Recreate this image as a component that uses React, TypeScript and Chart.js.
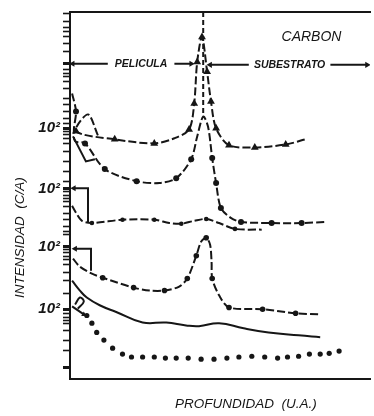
import React, { useEffect, useRef } from 'react';
import { Chart, registerables } from 'chart.js';
Chart.register(...registerables);

type P = [number, number, number];
type Q = [number, number];

// depth (a.u., 0-100) , log-intensity offset (a.u., 0-100), marker flag
const triangleCurve: P[] = [
  [9.3, 66.4, 0], [6.0, 72.1, 0], [2.0, 67.5, 1], [14.9, 65.3, 1], [28.1, 64.2, 1], [34.8, 65.6, 0],
  [39.7, 68.0, 1], [41.4, 75.1, 1], [42.4, 86.4, 1], [44.0, 93.2, 1], [45.7, 83.7, 1], [47.0, 75.6, 1],
  [48.7, 68.3, 1], [53.0, 63.7, 1], [61.6, 63.1, 1], [71.9, 63.9, 1], [78.5, 65.3, 0],
];
const circleCurveB: P[] = [
  [0.7, 77.8, 0], [2.0, 72.9, 1], [1.3, 68.0, 0], [1.7, 64.8, 0], [5.0, 64.2, 1], [11.6, 57.2, 1],
  [22.2, 53.9, 1], [29.8, 53.4, 0], [35.4, 54.7, 1], [40.4, 59.9, 1], [42.4, 66.1, 0], [44.4, 71.5, 0],
  [46.0, 68.8, 0], [47.4, 60.2, 1], [48.7, 53.4, 1], [50.3, 46.6, 1], [53.6, 43.9, 0], [57.0, 42.8, 1],
  [67.2, 42.5, 1], [77.2, 42.5, 1], [85.4, 42.8, 0],
];
const circleCurveC: P[] = [
  [0.7, 47.2, 0], [2.0, 45.3, 0], [4.0, 43.1, 0], [7.3, 42.5, 1], [17.5, 43.4, 1], [28.1, 43.4, 1],
  [33.1, 42.5, 0], [37.1, 42.3, 1], [41.4, 43.1, 0], [45.4, 43.6, 1], [49.7, 42.5, 0], [55.0, 40.9, 1],
  [63.9, 40.7, 0],
];
const circleCurveD: P[] = [
  [1.0, 32.8, 0], [3.3, 30.6, 0], [7.3, 28.7, 0], [10.9, 27.6, 1], [21.2, 24.9, 1], [26.5, 24.1, 0],
  [31.5, 24.1, 1], [36.4, 25.2, 0], [39.1, 27.4, 1], [42.1, 33.6, 1], [43.7, 37.4, 0], [45.4, 38.5, 1],
  [46.7, 36.6, 0], [47.2, 31.7, 0], [47.4, 27.4, 1], [49.7, 22.8, 0], [53.0, 19.5, 1], [64.2, 19.0, 1],
  [75.2, 17.9, 1], [83.4, 17.6, 0],
];
const solidCurveE: Q[] = [
  [0.7, 26.8], [3.3, 24.1], [5.6, 22.2], [9.9, 20.1], [15.6, 18.2], [24.2, 15.4], [32.1, 15.4],
  [38.7, 14.6], [43.0, 14.4], [49.7, 15.2], [57.9, 13.8], [66.2, 12.7], [76.2, 11.9], [83.4, 11.4],
];
const dottedSeriesF: Q[] = [
  [5.6, 17.3], [7.3, 15.2], [8.9, 12.7], [11.3, 10.6], [14.2, 8.4], [17.5, 6.8], [20.5, 6.0],
  [24.2, 6.0], [28.1, 6.0], [31.8, 5.7], [35.4, 5.7], [39.4, 5.7], [43.7, 5.4], [48.0, 5.4],
  [52.3, 5.7], [56.3, 6.0], [60.6, 6.2], [64.9, 6.0], [69.2, 5.7], [72.5, 6.0], [76.2, 6.2],
  [79.8, 6.8], [83.4, 6.8], [86.4, 7.0], [89.7, 7.6],
];
const bracketB: Q[] = [[1.0, 66.1], [5.3, 59.3], [8.3, 59.9]];
const bracketC: Q[] = [[1.3, 52.0], [6.0, 52.0], [6.0, 42.8]];
const bracketD: Q[] = [[1.7, 35.5], [7.0, 35.5], [7.0, 29.5]];
const arrowF: Q[] = [[0.7, 19.8], [4.6, 17.6]];
const squiggleF: Q[] = [[1.7, 20.3], [3.3, 22.2], [4.6, 21.1], [2.6, 19.2]];
const peliculaLeft: Q[] = [[0.9, 85.9], [12.6, 85.9]];
const peliculaRight: Q[] = [[34.8, 85.9], [40.4, 85.9]];
const subestratoLeft: Q[] = [[46.7, 85.6], [59.6, 85.6]];
const subestratoRight: Q[] = [[86.8, 85.6], [99.0, 85.6]];
const interfaceLine: Q[] = [[44.4, 100], [44.4, 72]];

// y-axis tick positions (a.u.) and the decades that carry a "10²" label
const yTickValues: number[] = [
  99.5, 97.3, 95.9, 94.6, 93.2, 91.3, 89.2, 85.9, 84.3, 83.2, 82.4, 81.0, 79.1, 76.4, 74.8, 72.9, 71.0,
  69.6, 68.3, 67.5, 66.7, 65.6, 64.2, 62.1, 59.3, 56.6, 53.9, 51.8, 51.0, 50.1, 49.1, 48.3, 47.0,
  45.0, 43.4, 41.5, 40.1, 39.3, 36.0, 35.2, 34.4, 33.3, 32.5, 31.2, 29.0, 26.8, 23.3, 19.0, 17.9,
  16.8, 16.0, 15.2, 13.3, 10.6, 7.9, 3.0,
];
const yMajorTicks: number[] = [85.9, 68.3, 51.8, 36.0, 19.0, 3.0];
const yLabelTicks: number[] = [68.3, 51.8, 36.0, 19.0];
const yLabelText = '10²';

const INK = '#161616';

const textPlugin = {
  id: 'figureText',
  afterDraw(chart: any) {
    const { ctx, scales } = chart;
    const x = scales.x;
    const y = scales.y;
    ctx.save();
    ctx.fillStyle = INK;
    ctx.textAlign = 'center';
    ctx.textBaseline = 'middle';
    ctx.font = 'italic 14px "Liberation Sans", sans-serif';
    ctx.fillText('CARBON', x.getPixelForValue(80.5), y.getPixelForValue(93.2));
    ctx.font = 'italic bold 10.5px "Liberation Sans", sans-serif';
    ctx.fillText('PELICULA', x.getPixelForValue(23.7), y.getPixelForValue(85.9));
    ctx.fillText('SUBESTRATO', x.getPixelForValue(73.2), y.getPixelForValue(85.6));
    ctx.font = 'italic 13.5px "Liberation Sans", sans-serif';
    ctx.fillText('PROFUNDIDAD  (U.A.)', x.getPixelForValue(58.6), chart.chartArea.bottom + 25);
    ctx.translate(20, y.getPixelForValue(38.5));
    ctx.rotate(-Math.PI / 2);
    ctx.fillText('INTENSIDAD  (C/A)', 0, 0);
    ctx.restore();
  },
};

function curve(pts: P[], radius: number, style: string, dash: number[]) {
  return {
    data: pts.map((p) => ({ x: p[0], y: p[1] })),
    borderColor: INK,
    backgroundColor: INK,
    borderWidth: 2,
    borderDash: dash,
    tension: 0.3,
    pointStyle: style,
    pointRadius: pts.map((p) => (p[2] ? radius : 0)),
    pointBorderWidth: 0,
  };
}

function plain(pts: Q[], dash: number[] = [], heads: number[] = [], rot: number[] = [], tension = 0) {
  return {
    data: pts.map((p) => ({ x: p[0], y: p[1] })),
    borderColor: INK,
    backgroundColor: INK,
    borderWidth: 2,
    borderDash: dash,
    tension,
    pointStyle: 'triangle',
    pointRadius: pts.map((_, i) => heads[i] || 0),
    rotation: pts.map((_, i) => rot[i] || 0),
    pointBorderWidth: 0,
  };
}

export default function App() {
  const ref = useRef<HTMLCanvasElement>(null);
  useEffect(() => {
    document.body.style.margin = '0';
    const canvas = ref.current!;
    const chart = new Chart(canvas, {
      type: 'line',
      data: {
        datasets: [
          curve(triangleCurve, 4.5, 'triangle', [8, 3]) as any,
          curve(circleCurveB, 3, 'circle', [8, 3]),
          curve(circleCurveC, 2.3, 'circle', [8, 3]),
          curve(circleCurveD, 2.8, 'circle', [8, 3]),
          plain(solidCurveE, [], [], [], 0.45),
          {
            data: dottedSeriesF.map((p) => ({ x: p[0], y: p[1] })),
            showLine: false,
            pointStyle: 'circle',
            pointRadius: 2.6,
            pointBorderWidth: 0,
            backgroundColor: INK,
            borderColor: INK,
          },
          plain(bracketB),
          plain(bracketC, [], [3.5], [-90]),
          plain(bracketD, [], [3.5], [-90]),
          plain(arrowF, [], [0, 3], [0, 120]),
          plain(squiggleF, [], [], [], 0.4),
          plain(peliculaLeft, [], [3.5], [-90]),
          plain(peliculaRight, [], [0, 3.5], [0, 90]),
          plain(subestratoLeft, [], [3.5], [-90]),
          plain(subestratoRight, [], [0, 3.5], [0, 90]),
          plain(interfaceLine, [5, 3]),
        ],
      },
      options: {
        responsive: false,
        animation: false,
        events: [],
        layout: { padding: { top: 11, right: 2, left: 0, bottom: 0 } },
        plugins: { legend: { display: false }, tooltip: { enabled: false }, title: { display: false } },
        scales: {
          x: {
            type: 'linear',
            min: 0,
            max: 100,
            ticks: { display: false },
            grid: { display: false, drawTicks: false },
            border: { display: true, color: INK, width: 2 },
            afterFit: (s: any) => { s.height = 37; },
          },
          x2: {
            type: 'linear',
            position: 'top',
            min: 0,
            max: 100,
            ticks: { display: false },
            grid: { display: false, drawTicks: false },
            border: { display: true, color: INK, width: 2 },
            afterFit: (s: any) => { s.height = 0; },
          },
          y: {
            type: 'linear',
            min: 0,
            max: 100,
            afterBuildTicks: (s: any) => { s.ticks = yTickValues.map((v) => ({ value: v })); },
            afterFit: (s: any) => { s.width = 70; },
            ticks: {
              autoSkip: false,
              padding: 3,
              color: INK,
              font: { family: '"Liberation Sans", sans-serif', size: 15, style: 'italic', weight: 'bold' },
              callback: (v: any) => (yLabelTicks.includes(v) ? yLabelText : ''),
            },
            grid: {
              drawOnChartArea: false,
              drawTicks: true,
              tickLength: 7,
              tickColor: INK,
              tickWidth: (c: any) => (c.tick && yMajorTicks.includes(c.tick.value) ? 3 : 1.6),
            },
            border: { display: true, color: INK, width: 2 },
          },
        },
      },
      plugins: [textPlugin],
    } as any);
    return () => chart.destroy();
  }, []);
  return (
    <div style={{ width: 374, height: 416, background: '#fff' }}>
      <canvas ref={ref} width={374} height={416} style={{ display: 'block' }} />
    </div>
  );
}
